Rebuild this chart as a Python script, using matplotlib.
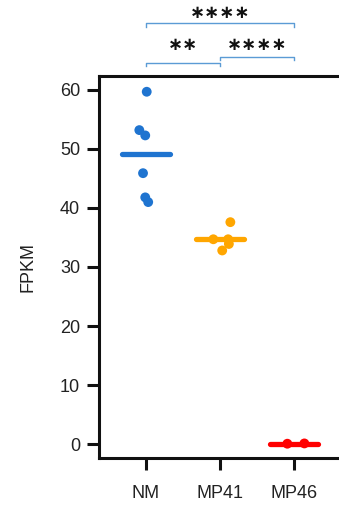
import numpy as np
import matplotlib
matplotlib.use("Agg")
import matplotlib.pyplot as plt

plt.rcParams["font.family"] = ["Liberation Sans", "DejaVu Sans"]

groups = ["NM", "MP41", "MP46"]
colors = ["#1f74d0", "#ffa600", "#ff0000"]

nm_fpkm = [59.7, 53.2, 52.3, 45.9, 41.8, 41.0]
nm_jitter = [0.01, -0.09, -0.01, -0.04, -0.01, 0.03]
mp41_fpkm = [37.6, 34.7, 34.7, 33.9, 32.8]
mp41_jitter = [0.14, -0.09, 0.11, 0.12, 0.03]
mp46_fpkm = [0.05, 0.1]
mp46_jitter = [-0.09, 0.14]

values = [nm_fpkm, mp41_fpkm, mp46_fpkm]
jitters = [nm_jitter, mp41_jitter, mp46_jitter]

# significance brackets: (left group, right group, label, bracket height, label height)
brackets = [
    (0, 2, "****", 71.3, 73.0),
    (0, 1, "**", 64.6, 67.6),
    (1, 2, "****", 65.6, 67.6),
]
yticks = [0, 10, 20, 30, 40, 50, 60]

fig = plt.figure(figsize=(3.39, 5.09), dpi=100)
ax = fig.add_axes([0.292, 0.1002, 0.708, 0.7505])

for i, (vals, jit) in enumerate(zip(values, jitters)):
    xs = i + np.array(jit)
    ax.scatter(xs, vals, s=50, color=colors[i], edgecolor="none", zorder=3)
    med = np.median(vals)
    ax.plot([i - 0.33, i + 0.33], [med, med], color=colors[i], lw=3.8,
            solid_capstyle="round", zorder=2)

bracket_color = "#5b9bd5"
for left, right, label, h, text_h in brackets:
    ax.plot([left, left, right, right], [h - 0.6, h, h, h - 0.6],
            color=bracket_color, lw=1.0, clip_on=False)
    ax.text((left + right) / 2, text_h, label.replace("*", "\u2217"),
            ha="center", va="center", fontsize=13, fontweight="bold",
            family="DejaVu Sans", color="#111111")

ax.set_xlim(-0.635, 2.608)
ax.set_ylim(-2.37, 62.37)
ax.set_xticks(range(len(groups)))
ax.set_xticklabels(groups)
ax.set_yticks(yticks)

for side in ["left", "bottom", "top"]:
    ax.spines[side].set_linewidth(2.2)
    ax.spines[side].set_color("#111111")
ax.spines["right"].set_visible(False)

ax.tick_params(axis="both", direction="out", length=8.5, width=2.2,
               color="#111111", labelsize=13, labelcolor="#222222")
ax.tick_params(axis="x", pad=11)
ax.tick_params(axis="y", pad=5)

ax.set_ylabel("FPKM", fontsize=13, color="#222222")
ax.yaxis.set_label_coords(-0.262, 0.5)

fig.savefig("out.png", dpi=100)
